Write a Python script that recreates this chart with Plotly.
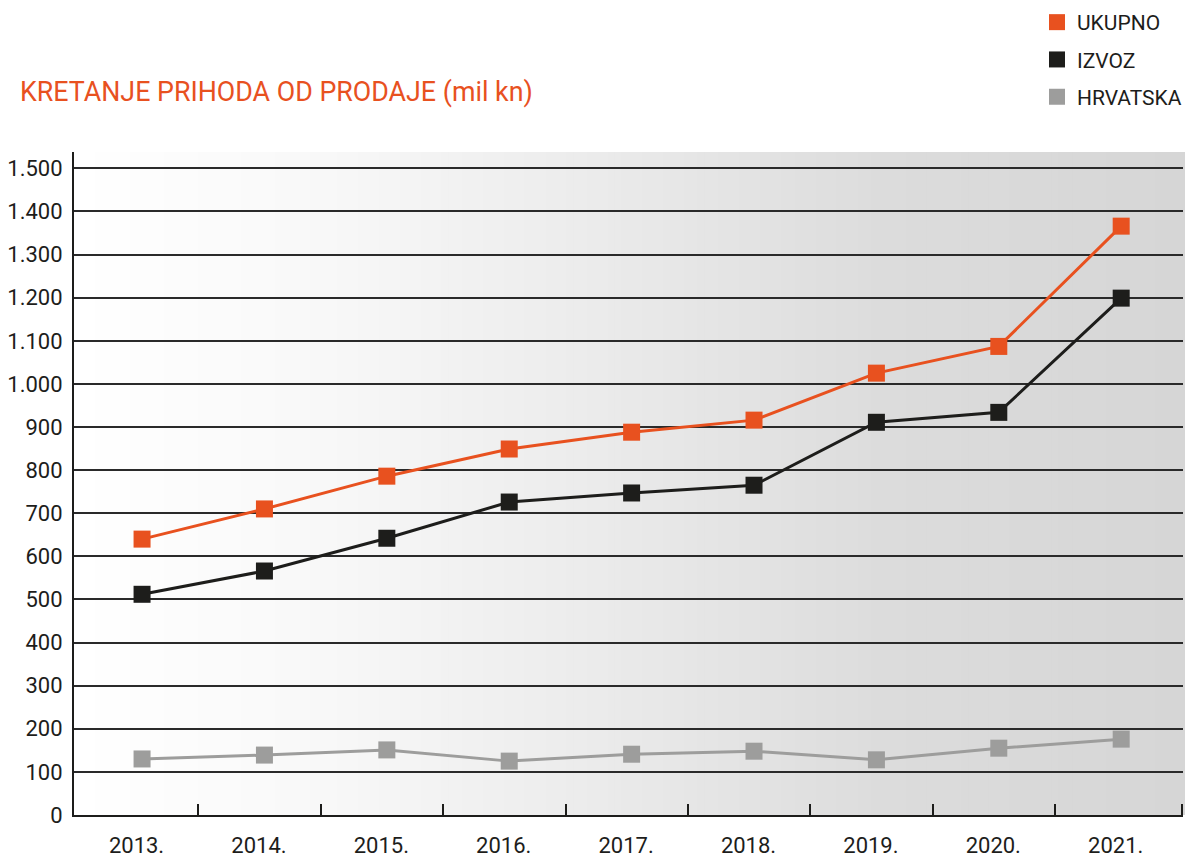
import plotly.graph_objects as go
import numpy as np

years = ["2013.", "2014.", "2015.", "2016.", "2017.", "2018.", "2019.", "2020.", "2021."]
ukupno = [640, 710, 786, 849, 888, 916, 1025, 1087, 1366]
izvoz = [512, 566, 642, 726, 747, 765, 911, 934, 1199]
hrvatska = [130, 139, 151, 125, 141, 148, 128, 155, 176]

series_names = ["UKUPNO", "IZVOZ", "HRVATSKA"]
series_values = [ukupno, izvoz, hrvatska]
series_colors = ["#e8511f", "#1d1d1b", "#9d9d9c"]

title_text = "KRETANJE PRIHODA OD PRODAJE (mil kn)"
y_ticks = list(range(0, 1600, 100))

FONT = "Roboto"
TXT = "#1d1d1b"

xpos = list(range(len(years)))
label_ticks = [i - 0.045 for i in xpos]
boundary_ticks = [i + 0.46 for i in xpos[:-1]] + [8.5]

fig = go.Figure()

for name, vals, col in zip(series_names, series_values, series_colors):
    fig.add_trace(go.Scatter(
        x=xpos, y=vals, mode="lines+markers", name=name,
        line=dict(color=col, width=3),
        marker=dict(symbol="square", size=17, color=col),
        showlegend=False, hoverinfo="skip", legendgroup=name,
    ))
for name, col in zip(series_names, series_colors):
    fig.add_trace(go.Scatter(
        x=[None], y=[None], mode="markers", name=name,
        marker=dict(symbol="square", size=16, color=col),
        showlegend=True, legendgroup=name,
    ))

# gradient background (white -> light gray), styling stops
grad_pos = [0.0, 0.23, 0.47, 0.73, 1.0]
grad_val = [255, 248, 235, 220, 214]
n = 160
shapes = []
for i in range(n):
    t = (i + 0.5) / n
    v = int(round(float(np.interp(t, grad_pos, grad_val))))
    shapes.append(dict(
        type="rect", xref="paper", yref="paper",
        x0=i / n, x1=(i + 1) / n + 0.002, y0=0, y1=1,
        fillcolor=f"rgb({v},{v},{v})", line=dict(width=0), layer="below",
    ))

fig.update_layout(
    width=1185, height=858,
    margin=dict(l=74, r=2, t=152, b=43, autoexpand=False),
    paper_bgcolor="white", plot_bgcolor="rgba(0,0,0,0)",
    separators=",.",
    font=dict(family=FONT, color=TXT, size=22),
    shapes=shapes,
    title=dict(
        text=title_text, xref="container", x=20 / 1185, xanchor="left",
        yref="container", y=1 - 92 / 858, yanchor="middle",
        pad=dict(l=0, r=0, t=0, b=0),
        font=dict(family=FONT, size=26.8, color="#e8511f"),
    ),
    legend=dict(
        xref="container", yref="container",
        x=1037 / 1185, y=1 - 2 / 858, xanchor="left", yanchor="top",
        font=dict(family=FONT, size=21, color=TXT),
        bgcolor="rgba(0,0,0,0)", tracegroupgap=7,
        itemsizing="trace",
    ),
    xaxis=dict(
        range=[-0.556, 8.505],
        tickvals=label_ticks, ticktext=years, ticks="",
        minor=dict(tickvals=boundary_ticks, ticks="inside", ticklen=11,
                   tickwidth=1.5, tickcolor=TXT, showgrid=False),
        showline=True, linecolor=TXT, linewidth=2, showgrid=False,
        zeroline=False,
        ticklabelstandoff=10, tickfont=dict(size=22, color=TXT),
    ),
    yaxis=dict(
        range=[0, 1538], tickvals=y_ticks, tickformat=",d",
        showgrid=True, gridcolor="#2a2a2a", gridwidth=1.5,
        showline=True, linecolor=TXT, linewidth=2, ticks="",
        zeroline=False, ticklabelstandoff=5,
        tickfont=dict(size=22, color=TXT),
    ),
)

fig.write_html(
    "out.html",
    config={"displayModeBar": False},
    post_script="document.body.style.margin='0';document.body.style.padding='0';",
)
